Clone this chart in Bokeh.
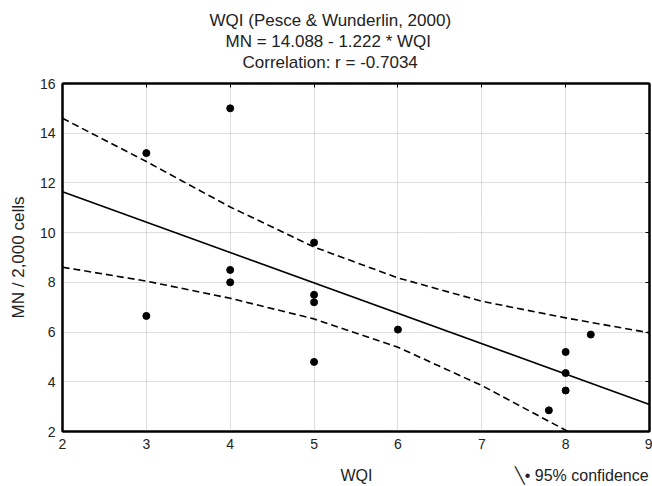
from bokeh.plotting import figure
from bokeh.models import (LinearAxis, FixedTicker, Range1d, Title)
from bokeh.embed import file_html
from bokeh.resources import INLINE

# ---- data ----
wqi = [3, 3, 4, 4, 4, 5, 5, 5, 5, 6, 7.8, 8, 8, 8, 8.3]
mn = [13.2, 6.65, 15.0, 8.5, 8.0, 9.6, 7.5, 7.2, 4.8, 6.1, 2.85, 5.2, 4.35, 3.65, 5.9]

intercept = 14.088
slope = -1.222
fit_x = [2, 9]

band_x = [2, 3, 4, 5, 6, 7, 8, 9]
band_upper = [14.6, 12.86, 11.03, 9.42, 8.18, 7.24, 6.57, 5.97]
band_lower = [8.61, 8.05, 7.36, 6.53, 5.39, 3.85, 2.05, 0.2]

x_ticks = [2, 3, 4, 5, 6, 7, 8, 9]
y_ticks = [2, 4, 6, 8, 10, 12, 14, 16]

title_lines = ["WQI (Pesce & Wunderlin, 2000)",
               "MN = 14.088 - 1.222 * WQI",
               "Correlation: r = -0.7034"]
title_offsets = [147, 163, 180]
x_label = "WQI"
y_label = "MN / 2,000 cells"
legend_label = "95% confidence"

FONT = "Liberation Sans"
TXT = "#222222"
NBSP = "\u00a0"

fit_y = [intercept + slope * v for v in fit_x]

p = figure(width=652, height=486, output_backend="svg", toolbar_location=None,
           x_range=Range1d(2, 9), y_range=Range1d(2, 16),
           min_border_left=62, min_border_right=3, min_border_top=83,
           min_border_bottom=55, background_fill_color="white",
           border_fill_color="white")

p.outline_line_color = "black"
p.outline_line_width = 2

for ax in (p.xaxis[0], p.yaxis[0]):
    ax.axis_line_color = "black"
    ax.axis_line_width = 2
    ax.major_tick_in = 0
    ax.major_tick_out = 0
    ax.minor_tick_line_color = None
    ax.major_label_text_font = FONT
    ax.major_label_text_font_size = "14px"
    ax.major_label_text_color = TXT
    ax.major_label_standoff = 7
    ax.axis_label_text_font = FONT
    ax.axis_label_text_font_size = "17px"
    ax.axis_label_text_font_style = "normal"
    ax.axis_label_text_color = TXT
p.xaxis[0].ticker = FixedTicker(ticks=x_ticks)
p.yaxis[0].ticker = FixedTicker(ticks=y_ticks)
p.yaxis[0].axis_label = y_label
p.yaxis[0].axis_label_standoff = 9

top = LinearAxis(ticker=FixedTicker(ticks=x_ticks), major_label_text_font_size="0px",
                 major_tick_in=4, major_tick_out=0, minor_tick_line_color=None,
                 axis_line_color="black", axis_line_width=2, major_label_standoff=0)
right = LinearAxis(ticker=FixedTicker(ticks=y_ticks), major_label_text_font_size="0px",
                   major_tick_in=4, major_tick_out=0, minor_tick_line_color=None,
                   axis_line_color="black", axis_line_width=2, major_label_standoff=0)
p.add_layout(top, "above")
p.add_layout(right, "right")

p.xgrid.ticker = FixedTicker(ticks=x_ticks)
p.ygrid.ticker = FixedTicker(ticks=y_ticks)
for g in (p.xgrid[0], p.ygrid[0]):
    g.grid_line_color = "#bdbdbd"
    g.grid_line_dash = "1 1"
    g.grid_line_width = 1

p.line(fit_x, fit_y, line_color="black", line_width=1.6)
p.line(band_x, band_upper, line_color="black", line_width=1.6, line_dash="7 4")
p.line(band_x, band_lower, line_color="black", line_width=1.6, line_dash="7 4")
p.scatter(wqi, mn, size=7, marker="circle", fill_color="black", line_color="black")

# blank spacer between the frame and the title block
p.add_layout(Title(text=NBSP, text_font=FONT, text_font_size="9px", standoff=0), "above")

# stacked title lines (closest to the frame first)
for txt, off in reversed(list(zip(title_lines, title_offsets))):
    p.add_layout(Title(text=txt, align="left", offset=off, text_font=FONT,
                       text_font_size="17px", text_font_style="normal",
                       text_color=TXT, standoff=0), "above")

# blank spacer under the tick labels
p.add_layout(Title(text=NBSP, text_font=FONT, text_font_size="10px", standoff=0), "below")

# x-axis title and the (cut-off) legend text share one row under the tick labels
bottom_row = x_label + NBSP * 32 + "\u2572\u2022" + NBSP + legend_label
p.add_layout(Title(text=bottom_row, align="left", offset=278, text_font=FONT,
                   text_font_size="16px", text_font_style="normal",
                   text_color=TXT, standoff=0), "below")

open("out.html", "w").write(file_html(p, INLINE))
